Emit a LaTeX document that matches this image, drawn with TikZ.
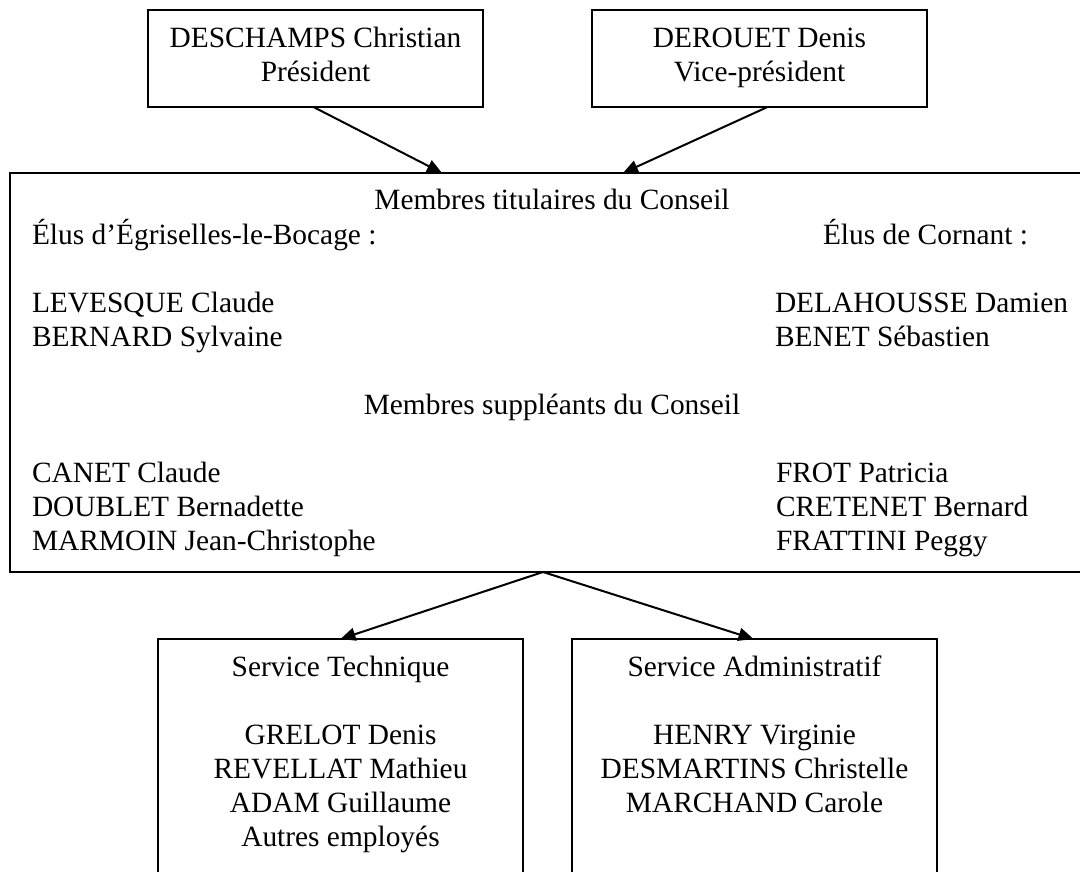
\documentclass[tikz,border=0pt]{standalone}
\usepackage{fontspec}
\setmainfont{Liberation Serif}
\usetikzlibrary{arrows.meta}
\newcommand\fstrut{\rule{0pt}{30pt}}
\begin{document}
\begin{tikzpicture}[x=1pt,y=-1pt,
  box/.style={draw, line width=1.8pt, inner sep=0pt, outer sep=0pt},
  txt/.style={font=\fontsize{29.4}{34}\selectfont, inner sep=0pt, outer sep=0pt},
  conn/.style={line width=2pt, -{Triangle[length=15pt,width=13pt]}}]
\useasboundingbox (0,0) rectangle (1080,872);
\clip (0,0) rectangle (1080,872);
% boxes
\node[box, minimum width=335pt, minimum height=97pt] (pres) at (315.5,58.5) {};
\node[box, minimum width=335pt, minimum height=97pt] (vice) at (759.5,58.5) {};
\node[box, minimum width=1084pt, minimum height=399pt] (conseil) at (552,372.5) {};
\node[box, minimum width=365pt, minimum height=262pt] (tech) at (340.5,770) {};
\node[box, minimum width=365pt, minimum height=262pt] (admin) at (754.5,770) {};
% texts
\node[txt, align=center, anchor=north] (tpres) at (315.5,18) {\fstrut DESCHAMPS Christian\\Président};
\node[txt, align=center, anchor=north] (tvice) at (759.5,18) {\fstrut DEROUET Denis\\Vice-président};
\node[txt, anchor=north] (ttit) at (552,180) {\fstrut Membres titulaires du Conseil};
\node[txt, align=left, anchor=north west] (tegr) at (32,214) {\fstrut Élus d’Égriselles-le-Bocage :\\[34pt]LEVESQUE Claude\\BERNARD Sylvaine};
\node[txt, anchor=north west] (tcor) at (823,214) {\fstrut Élus de Cornant :};
\node[txt, align=left, anchor=north west] (tcorn) at (775,282) {\fstrut DELAHOUSSE Damien\\BENET Sébastien};
\node[txt, anchor=north] (tsup) at (552,384) {\fstrut Membres suppléants du Conseil};
\node[txt, align=left, anchor=north west] (tsupl) at (32,452) {\fstrut CANET Claude\\DOUBLET Bernadette\\MARMOIN Jean-Christophe};
\node[txt, align=left, anchor=north west] (tsupr) at (776,452) {\fstrut FROT Patricia\\CRETENET Bernard\\FRATTINI Peggy};
\node[txt, align=center, anchor=north] (ttech) at (340.5,646) {\fstrut Service Technique\\[34pt]GRELOT Denis\\REVELLAT Mathieu\\ADAM Guillaume\\Autres employés};
\node[txt, align=center, anchor=north] (tadmin) at (754.5,646) {\fstrut Service Administratif\\[34pt]HENRY Virginie\\DESMARTINS Christelle\\MARCHAND Carole};
% connector points
\coordinate (in1) at (442,173);
\coordinate (in2) at (623,173);
\coordinate (out0) at (543,572);
\draw[conn] ([xshift=-2pt]pres.south) -- (in1);
\draw[conn] ([xshift=8pt]vice.south) -- (in2);
\draw[conn] (out0) -- (tech.north);
\draw[conn] (out0) -- ([xshift=-1pt]admin.north);
\end{tikzpicture}
\end{document}
